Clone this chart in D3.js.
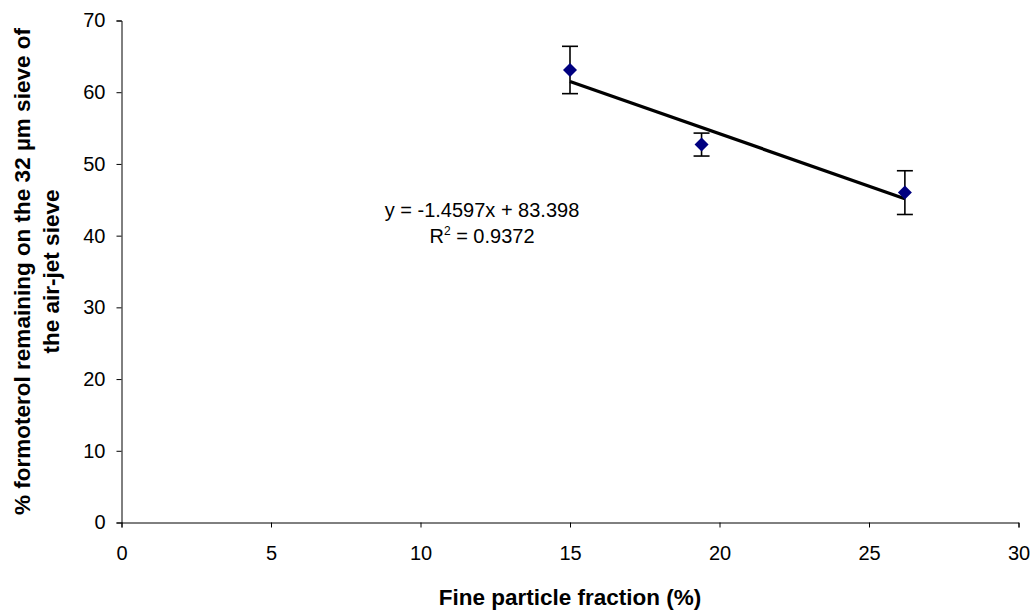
<!DOCTYPE html>
<html><head><meta charset="utf-8">
<script src="https://cdn.jsdelivr.net/npm/d3@7"></script>
<style>body{margin:0;background:#fff}svg{display:block}text{font-family:"Liberation Sans",Arial,sans-serif}</style>
</head><body>
<svg id="c" width="1034" height="610"></svg>
<script>
const xVals = [15.0, 19.4, 26.2];
const yVals = [63.1, 52.7, 46.0];
const errVals = [3.3, 1.6, 3.05];
const slope = -1.4597, intercept = 83.398;
const xTicks = [0, 5, 10, 15, 20, 25, 30];
const yTicks = [0, 10, 20, 30, 40, 50, 60, 70];
const eqText = "y = -1.4597x + 83.398";
const r2Value = "0.9372";
const xTitle = "Fine particle fraction (%)";
const yTitle = ["% formoterol remaining on the 32 µm sieve of", "the air-jet sieve"];

const svg = d3.select("#c");
const x = d3.scaleLinear().domain([0, 30]).range([121.5, 1018.5]);
const y = d3.scaleLinear().domain([0, 70]).range([522.5, 20.5]);

const xAxis = svg.append("g").attr("transform", `translate(0,${y(0)})`)
  .call(d3.axisBottom(x).tickValues(xTicks).tickSize(5).tickPadding(18));
const yAxis = svg.append("g").attr("transform", `translate(${x(0)},0)`)
  .call(d3.axisLeft(y).tickValues(yTicks).tickSize(5).tickPadding(11));
[xAxis, yAxis].forEach(a => {
  a.selectAll("path").attr("stroke", "#000").attr("stroke-width", 1);
  a.selectAll("line").attr("stroke", "#000");
  a.selectAll("text").attr("font-size", 20).attr("fill", "#000")
    .style("font-family", '"Liberation Sans",Arial,sans-serif');
});

// trendline
svg.append("line")
  .attr("x1", x(xVals[0])).attr("y1", y(slope * xVals[0] + intercept))
  .attr("x2", x(xVals[2])).attr("y2", y(slope * xVals[2] + intercept))
  .attr("stroke", "#000").attr("stroke-width", 3.3);

// error bars
const data = xVals.map((v, i) => ({x: v, y: yVals[i], e: errVals[i]}));
const eb = svg.append("g").attr("stroke", "#000").attr("stroke-width", 1.6);
data.forEach(d => {
  eb.append("line").attr("x1", x(d.x)).attr("x2", x(d.x)).attr("y1", y(d.y + d.e)).attr("y2", y(d.y - d.e));
  [d.y + d.e, d.y - d.e].forEach(v => eb.append("line")
    .attr("x1", x(d.x) - 8).attr("x2", x(d.x) + 8).attr("y1", y(v)).attr("y2", y(v)));
});

// markers
svg.append("g").selectAll("path").data(data).join("path")
  .attr("d", d3.symbol(d3.symbolSquare, 98))
  .attr("transform", d => `translate(${x(d.x)},${y(d.y)}) rotate(45)`)
  .attr("fill", "#000080");

// equation
svg.append("text").attr("x", 482).attr("y", 217).attr("text-anchor", "middle")
  .attr("font-size", 20).text(eqText);
const r2 = svg.append("text").attr("x", 482).attr("y", 243).attr("text-anchor", "middle").attr("font-size", 20);
r2.append("tspan").text("R");
r2.append("tspan").attr("font-size", 12).attr("dy", -8).text("2");
r2.append("tspan").attr("dy", 8).text(" = " + r2Value);

// titles
svg.append("text").attr("x", 570).attr("y", 605).attr("text-anchor", "middle")
  .attr("font-size", 22.5).attr("font-weight", "bold").text(xTitle);
const yt = svg.append("text").attr("transform", `translate(30,${y(35)}) rotate(-90)`)
  .attr("text-anchor", "middle").attr("font-size", 22.5).attr("font-weight", "bold");
yt.append("tspan").attr("x", 0).attr("dy", 0).text(yTitle[0]);
yt.append("tspan").attr("x", 0).attr("dy", 29).text(yTitle[1]);
</script>
</body></html>
